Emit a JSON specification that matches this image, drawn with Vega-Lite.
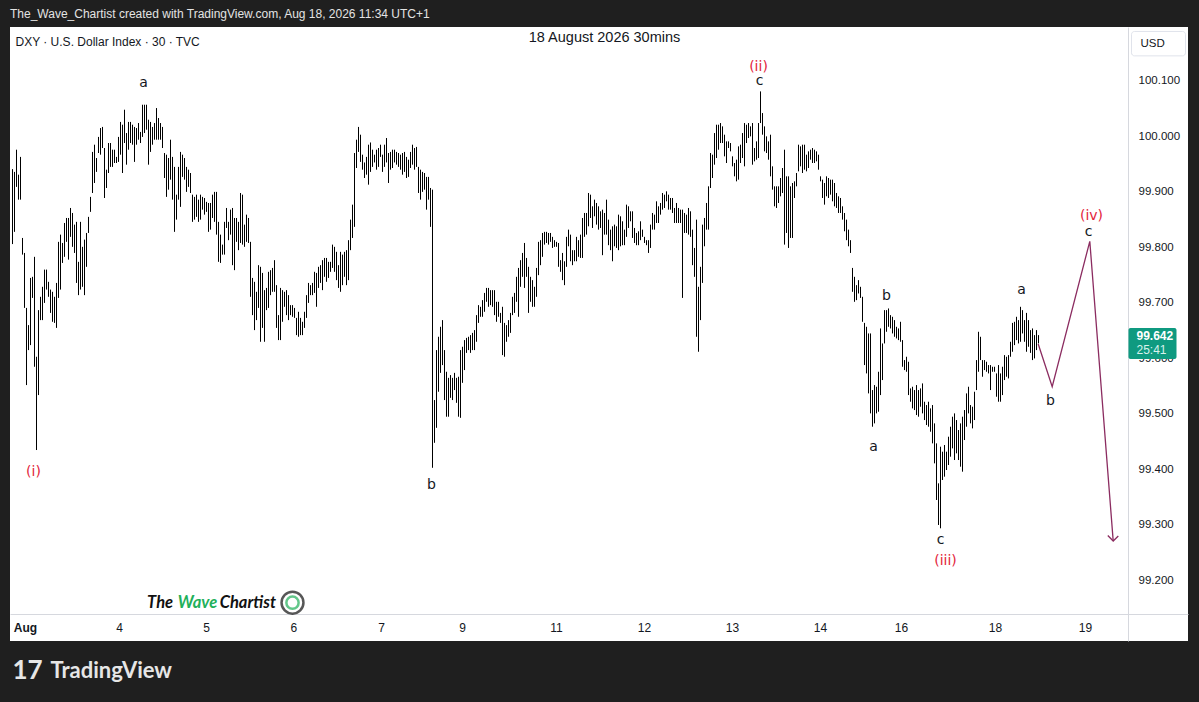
{
  "$schema": "https://vega.github.io/schema/vega-lite/v6.json",
  "width": 1178,
  "height": 614,
  "autosize": {"type": "none"},
  "padding": {"left": 10, "top": 27, "right": 11, "bottom": 61},
  "background": "#1f1f1f",
  "title": {
    "text": "The_Wave_Chartist created with TradingView.com, Aug 18, 2026 11:34 UTC+1",
    "anchor": "start",
    "frame": "group",
    "orient": "top",
    "offset": 1,
    "baseline": "middle",
    "font": "Liberation Sans",
    "fontSize": 12,
    "fontWeight": "normal",
    "color": "#e3e3e3"
  },
  "encoding": {
    "x": {
      "field": "t",
      "type": "quantitative",
      "scale": {"domain": [-0.25, 588.75], "nice": false, "zero": false},
      "axis": {
        "orient": "bottom",
        "offset": -27,
        "title": null,
        "grid": false,
        "ticks": false,
        "domainColor": "#d6d8de",
        "labelPadding": 8,
        "labelFont": "Liberation Sans",
        "labelFontSize": 12,
        "labelColor": "#131722",
        "labelOverlap": false,
        "values": [7.25, 54.25, 97.75, 141.4, 185.25, 225.75, 272.75, 316.75, 360.75, 404.75, 445.25, 492.25, 537.25],
        "labelExpr": "['Aug','4','5','6','7','9','11','12','13','14','16','18','19'][indexof([7.25, 54.25, 97.75, 141.4, 185.25, 225.75, 272.75, 316.75, 360.75, 404.75, 445.25, 492.25, 537.25], datum.value)]",
        "labelFontWeight": {"condition": {"test": "datum.value < 10", "value": "bold"}, "value": "normal"}
      }
    },
    "y": {
      "field": "p",
      "type": "quantitative",
      "scale": {"domain": [99.091, 100.197], "nice": false, "zero": false},
      "axis": {
        "orient": "right",
        "offset": -60,
        "title": null,
        "grid": false,
        "ticks": false,
        "domainColor": "#d6d8de",
        "labelPadding": 10,
        "labelFont": "Liberation Sans",
        "labelFontSize": 11.5,
        "labelColor": "#131722",
        "labelBaseline": "middle",
        "values": [99.2, 99.3, 99.4, 99.5, 99.6, 99.7, 99.8, 99.9, 100.0, 100.1],
        "format": ".3f"
      }
    }
  },
  "layer": [
    {
      "data": {"values": [
        {"t":1,"p":99.806,"p2":99.941},{"t":2,"p":99.828,"p2":99.936},{"t":3,"p":99.909,"p2":99.976},{"t":4,"p":99.886,"p2":99.931},{"t":5,"p":99.886,"p2":99.963},
        {"t":6,"p":99.787,"p2":99.817},{"t":7,"p":99.691,"p2":99.790},{"t":8,"p":99.552,"p2":99.691},{"t":9,"p":99.615,"p2":99.660},{"t":10,"p":99.624,"p2":99.745},
        {"t":11,"p":99.709,"p2":99.747},{"t":12,"p":99.585,"p2":99.783},{"t":13,"p":99.435,"p2":99.603},{"t":14,"p":99.534,"p2":99.687},{"t":15,"p":99.669,"p2":99.711},
        {"t":16,"p":99.669,"p2":99.729},{"t":17,"p":99.700,"p2":99.760},{"t":18,"p":99.724,"p2":99.760},{"t":19,"p":99.711,"p2":99.738},{"t":20,"p":99.682,"p2":99.724},
        {"t":21,"p":99.666,"p2":99.720},{"t":22,"p":99.664,"p2":99.711},{"t":23,"p":99.655,"p2":99.736},{"t":24,"p":99.709,"p2":99.810},{"t":25,"p":99.724,"p2":99.823},
        {"t":26,"p":99.772,"p2":99.808},{"t":27,"p":99.783,"p2":99.844},{"t":28,"p":99.810,"p2":99.853},{"t":29,"p":99.778,"p2":99.853},{"t":30,"p":99.819,"p2":99.871},
        {"t":31,"p":99.801,"p2":99.862},{"t":32,"p":99.790,"p2":99.841},{"t":33,"p":99.736,"p2":99.846},{"t":34,"p":99.714,"p2":99.774},{"t":35,"p":99.724,"p2":99.846},
        {"t":36,"p":99.729,"p2":99.801},{"t":37,"p":99.714,"p2":99.814},{"t":38,"p":99.765,"p2":99.826},{"t":39,"p":99.826,"p2":99.855},{"t":40,"p":99.864,"p2":99.891},
        {"t":41,"p":99.898,"p2":99.972},{"t":42,"p":99.916,"p2":99.985},{"t":43,"p":99.936,"p2":99.961},{"t":44,"p":99.970,"p2":99.999},{"t":45,"p":99.967,"p2":100.015},
        {"t":46,"p":99.979,"p2":100.017},{"t":47,"p":99.889,"p2":99.979},{"t":48,"p":99.907,"p2":99.940},{"t":49,"p":99.934,"p2":99.988},{"t":50,"p":99.945,"p2":99.988},
        {"t":51,"p":99.945,"p2":99.976},{"t":52,"p":99.952,"p2":99.976},{"t":53,"p":99.952,"p2":99.963},{"t":54,"p":99.954,"p2":99.999},{"t":55,"p":99.967,"p2":100.026},
        {"t":56,"p":99.934,"p2":100.021},{"t":57,"p":99.988,"p2":100.048},{"t":58,"p":99.949,"p2":100.006},{"t":59,"p":99.976,"p2":100.026},{"t":60,"p":99.988,"p2":100.026},
        {"t":61,"p":99.985,"p2":100.021},{"t":62,"p":99.954,"p2":100.017},{"t":63,"p":99.985,"p2":100.015},{"t":64,"p":99.994,"p2":100.024},{"t":65,"p":99.988,"p2":100.008},
        {"t":66,"p":99.999,"p2":100.057},{"t":67,"p":100.006,"p2":100.057},{"t":68,"p":100.012,"p2":100.057},{"t":69,"p":99.949,"p2":100.030},{"t":70,"p":99.972,"p2":100.026},
        {"t":71,"p":99.985,"p2":100.017},{"t":72,"p":99.994,"p2":100.024},{"t":73,"p":99.994,"p2":100.051},{"t":74,"p":99.994,"p2":100.033},{"t":75,"p":99.994,"p2":100.024},
        {"t":76,"p":99.979,"p2":100.017},{"t":77,"p":99.925,"p2":99.970},{"t":78,"p":99.891,"p2":99.967},{"t":79,"p":99.904,"p2":99.961},{"t":80,"p":99.922,"p2":99.994},
        {"t":81,"p":99.886,"p2":99.963},{"t":82,"p":99.828,"p2":99.945},{"t":83,"p":99.850,"p2":99.895},{"t":84,"p":99.886,"p2":99.945},{"t":85,"p":99.873,"p2":99.972},
        {"t":86,"p":99.927,"p2":99.967},{"t":87,"p":99.922,"p2":99.961},{"t":88,"p":99.900,"p2":99.945},{"t":89,"p":99.909,"p2":99.940},{"t":90,"p":99.898,"p2":99.934},
        {"t":91,"p":99.846,"p2":99.895},{"t":92,"p":99.850,"p2":99.891},{"t":93,"p":99.855,"p2":99.895},{"t":94,"p":99.846,"p2":99.886},{"t":95,"p":99.850,"p2":99.895},
        {"t":96,"p":99.868,"p2":99.891},{"t":97,"p":99.859,"p2":99.889},{"t":98,"p":99.864,"p2":99.882},{"t":99,"p":99.828,"p2":99.880},{"t":100,"p":99.832,"p2":99.880},
        {"t":101,"p":99.853,"p2":99.895},{"t":102,"p":99.846,"p2":99.900},{"t":103,"p":99.823,"p2":99.900},{"t":104,"p":99.774,"p2":99.846},
        {"t":105,"p":99.772,"p2":99.823},{"t":106,"p":99.787,"p2":99.805},{"t":107,"p":99.787,"p2":99.846},{"t":108,"p":99.835,"p2":99.871},{"t":109,"p":99.813,"p2":99.846},
        {"t":110,"p":99.823,"p2":99.868},{"t":111,"p":99.768,"p2":99.871},{"t":112,"p":99.759,"p2":99.853},{"t":113,"p":99.810,"p2":99.853},{"t":114,"p":99.795,"p2":99.846},
        {"t":115,"p":99.808,"p2":99.898},{"t":116,"p":99.805,"p2":99.895},{"t":117,"p":99.801,"p2":99.841},{"t":118,"p":99.810,"p2":99.859},{"t":119,"p":99.808,"p2":99.853},
        {"t":120,"p":99.711,"p2":99.810},{"t":121,"p":99.678,"p2":99.745},{"t":122,"p":99.651,"p2":99.738},{"t":123,"p":99.669,"p2":99.720},{"t":124,"p":99.691,"p2":99.768},
        {"t":125,"p":99.630,"p2":99.765},{"t":126,"p":99.655,"p2":99.754},{"t":127,"p":99.630,"p2":99.723},{"t":128,"p":99.687,"p2":99.727},{"t":129,"p":99.691,"p2":99.756},
        {"t":130,"p":99.714,"p2":99.759},{"t":131,"p":99.720,"p2":99.763},{"t":132,"p":99.720,"p2":99.777},{"t":133,"p":99.655,"p2":99.732},{"t":134,"p":99.633,"p2":99.678},
        {"t":135,"p":99.633,"p2":99.727},{"t":136,"p":99.666,"p2":99.723},{"t":137,"p":99.693,"p2":99.720},{"t":138,"p":99.678,"p2":99.723},{"t":139,"p":99.669,"p2":99.714},
        {"t":140,"p":99.678,"p2":99.696},{"t":141,"p":99.675,"p2":99.696},{"t":142,"p":99.673,"p2":99.691},{"t":143,"p":99.642,"p2":99.673},{"t":144,"p":99.639,"p2":99.684},
        {"t":145,"p":99.642,"p2":99.673},{"t":146,"p":99.642,"p2":99.666},{"t":147,"p":99.655,"p2":99.684},{"t":148,"p":99.673,"p2":99.714},{"t":149,"p":99.700,"p2":99.736},
        {"t":150,"p":99.714,"p2":99.732},{"t":151,"p":99.714,"p2":99.736},{"t":152,"p":99.718,"p2":99.756},{"t":153,"p":99.693,"p2":99.754},{"t":154,"p":99.727,"p2":99.765},
        {"t":155,"p":99.736,"p2":99.768},{"t":156,"p":99.723,"p2":99.777},{"t":157,"p":99.747,"p2":99.781},{"t":158,"p":99.738,"p2":99.781},{"t":159,"p":99.745,"p2":99.774},
        {"t":160,"p":99.756,"p2":99.774},{"t":161,"p":99.763,"p2":99.805},{"t":162,"p":99.756,"p2":99.801},{"t":163,"p":99.741,"p2":99.792},{"t":164,"p":99.727,"p2":99.768},
        {"t":165,"p":99.720,"p2":99.792},{"t":166,"p":99.732,"p2":99.787},{"t":167,"p":99.747,"p2":99.792},{"t":168,"p":99.732,"p2":99.795},{"t":169,"p":99.741,"p2":99.813},
        {"t":170,"p":99.795,"p2":99.850},{"t":171,"p":99.817,"p2":99.877},{"t":172,"p":99.837,"p2":99.970},{"t":173,"p":99.943,"p2":99.994},{"t":174,"p":99.972,"p2":100.017},
        {"t":175,"p":99.954,"p2":100.003},{"t":176,"p":99.940,"p2":99.967},{"t":177,"p":99.925,"p2":99.953},{"t":178,"p":99.931,"p2":99.963},{"t":179,"p":99.913,"p2":99.985},
        {"t":180,"p":99.936,"p2":99.989},{"t":181,"p":99.945,"p2":99.976},{"t":182,"p":99.953,"p2":99.967},{"t":183,"p":99.940,"p2":99.976},{"t":184,"p":99.945,"p2":99.979},
        {"t":185,"p":99.963,"p2":99.985},{"t":186,"p":99.936,"p2":99.967},{"t":187,"p":99.945,"p2":99.985},{"t":188,"p":99.953,"p2":99.997},{"t":189,"p":99.916,"p2":99.970},
        {"t":190,"p":99.940,"p2":99.972},{"t":191,"p":99.943,"p2":99.976},{"t":192,"p":99.953,"p2":99.976},{"t":193,"p":99.949,"p2":99.972},{"t":194,"p":99.945,"p2":99.970},
        {"t":195,"p":99.940,"p2":99.967},{"t":196,"p":99.931,"p2":99.970},{"t":197,"p":99.936,"p2":99.972},{"t":198,"p":99.925,"p2":99.963},{"t":199,"p":99.927,"p2":99.958},
        {"t":200,"p":99.943,"p2":99.972},{"t":201,"p":99.949,"p2":99.985},{"t":202,"p":99.940,"p2":99.979},{"t":203,"p":99.945,"p2":99.981},{"t":204,"p":99.898,"p2":99.945},
        {"t":205,"p":99.886,"p2":99.940},{"t":206,"p":99.900,"p2":99.936},{"t":207,"p":99.904,"p2":99.934},{"t":208,"p":99.868,"p2":99.927},{"t":209,"p":99.886,"p2":99.927},
        {"t":210,"p":99.837,"p2":99.907},{"t":211,"p":99.403,"p2":99.904},{"t":212,"p":99.448,"p2":99.525},{"t":213,"p":99.475,"p2":99.615},{"t":214,"p":99.540,"p2":99.639},
        {"t":215,"p":99.574,"p2":99.657},{"t":216,"p":99.588,"p2":99.669},{"t":217,"p":99.525,"p2":99.615},{"t":218,"p":99.495,"p2":99.576},{"t":219,"p":99.495,"p2":99.565},
        {"t":220,"p":99.529,"p2":99.570},{"t":221,"p":99.525,"p2":99.565},{"t":222,"p":99.543,"p2":99.574},{"t":223,"p":99.520,"p2":99.565},{"t":224,"p":99.495,"p2":99.567},
        {"t":225,"p":99.493,"p2":99.615},{"t":226,"p":99.556,"p2":99.621},{"t":227,"p":99.579,"p2":99.633},{"t":228,"p":99.610,"p2":99.637},{"t":229,"p":99.615,"p2":99.639},
        {"t":230,"p":99.610,"p2":99.642},{"t":231,"p":99.615,"p2":99.646},{"t":232,"p":99.615,"p2":99.651},{"t":233,"p":99.630,"p2":99.678},{"t":234,"p":99.664,"p2":99.696},
        {"t":235,"p":99.675,"p2":99.693},{"t":236,"p":99.675,"p2":99.705},{"t":237,"p":99.684,"p2":99.718},{"t":238,"p":99.702,"p2":99.727},{"t":239,"p":99.693,"p2":99.727},
        {"t":240,"p":99.696,"p2":99.723},{"t":241,"p":99.693,"p2":99.723},{"t":242,"p":99.678,"p2":99.723},{"t":243,"p":99.666,"p2":99.702},{"t":244,"p":99.675,"p2":99.702},
        {"t":245,"p":99.664,"p2":99.682},{"t":246,"p":99.606,"p2":99.693},{"t":247,"p":99.603,"p2":99.664},{"t":248,"p":99.630,"p2":99.660},{"t":249,"p":99.639,"p2":99.669},
        {"t":250,"p":99.646,"p2":99.682},{"t":251,"p":99.678,"p2":99.711},{"t":252,"p":99.682,"p2":99.718},{"t":253,"p":99.702,"p2":99.747},{"t":254,"p":99.675,"p2":99.763},
        {"t":255,"p":99.729,"p2":99.777},{"t":256,"p":99.747,"p2":99.790},{"t":257,"p":99.727,"p2":99.808},{"t":258,"p":99.747,"p2":99.781},{"t":259,"p":99.682,"p2":99.765},
        {"t":260,"p":99.702,"p2":99.747},{"t":261,"p":99.693,"p2":99.741},{"t":262,"p":99.693,"p2":99.729},{"t":263,"p":99.711,"p2":99.763},{"t":264,"p":99.750,"p2":99.810},
        {"t":265,"p":99.768,"p2":99.813},{"t":266,"p":99.783,"p2":99.826},{"t":267,"p":99.805,"p2":99.828},{"t":268,"p":99.808,"p2":99.828},{"t":269,"p":99.805,"p2":99.826},
        {"t":270,"p":99.810,"p2":99.826},{"t":271,"p":99.799,"p2":99.819},{"t":272,"p":99.801,"p2":99.813},{"t":273,"p":99.801,"p2":99.810},{"t":274,"p":99.765,"p2":99.808},
        {"t":275,"p":99.756,"p2":99.777},
        {"t":276,"p":99.741,"p2":99.790},{"t":277,"p":99.732,"p2":99.775},{"t":278,"p":99.765,"p2":99.819},{"t":279,"p":99.802,"p2":99.832},{"t":280,"p":99.775,"p2":99.823},
        {"t":281,"p":99.768,"p2":99.795},{"t":282,"p":99.775,"p2":99.795},{"t":283,"p":99.775,"p2":99.819},{"t":284,"p":99.783,"p2":99.813},{"t":285,"p":99.781,"p2":99.823},
        {"t":286,"p":99.781,"p2":99.853},{"t":287,"p":99.819,"p2":99.862},{"t":288,"p":99.823,"p2":99.862},{"t":289,"p":99.838,"p2":99.898},{"t":290,"p":99.853,"p2":99.895},
        {"t":291,"p":99.835,"p2":99.874},{"t":292,"p":99.856,"p2":99.886},{"t":293,"p":99.841,"p2":99.880},{"t":294,"p":99.832,"p2":99.874},{"t":295,"p":99.835,"p2":99.865},
        {"t":296,"p":99.786,"p2":99.868},{"t":297,"p":99.823,"p2":99.862},{"t":298,"p":99.823,"p2":99.886},{"t":299,"p":99.804,"p2":99.850},{"t":300,"p":99.795,"p2":99.832},
        {"t":301,"p":99.775,"p2":99.838},{"t":302,"p":99.802,"p2":99.841},{"t":303,"p":99.799,"p2":99.838},{"t":304,"p":99.795,"p2":99.859},{"t":305,"p":99.802,"p2":99.856},
        {"t":306,"p":99.804,"p2":99.847},{"t":307,"p":99.804,"p2":99.832},{"t":308,"p":99.819,"p2":99.877},{"t":309,"p":99.835,"p2":99.874},{"t":310,"p":99.847,"p2":99.865},
        {"t":311,"p":99.817,"p2":99.865},{"t":312,"p":99.808,"p2":99.835},{"t":313,"p":99.804,"p2":99.826},{"t":314,"p":99.804,"p2":99.829},{"t":315,"p":99.813,"p2":99.847},
        {"t":316,"p":99.819,"p2":99.832},{"t":317,"p":99.808,"p2":99.819},{"t":318,"p":99.804,"p2":99.813},{"t":319,"p":99.790,"p2":99.813},{"t":320,"p":99.799,"p2":99.841},
        {"t":321,"p":99.832,"p2":99.862},{"t":322,"p":99.832,"p2":99.859},{"t":323,"p":99.844,"p2":99.883},{"t":324,"p":99.844,"p2":99.874},{"t":325,"p":99.859,"p2":99.880},
        {"t":326,"p":99.868,"p2":99.898},{"t":327,"p":99.871,"p2":99.895},{"t":328,"p":99.883,"p2":99.901},{"t":329,"p":99.868,"p2":99.895},{"t":330,"p":99.868,"p2":99.889},
        {"t":331,"p":99.862,"p2":99.889},{"t":332,"p":99.844,"p2":99.871},{"t":333,"p":99.844,"p2":99.880},{"t":334,"p":99.844,"p2":99.871},{"t":335,"p":99.844,"p2":99.868},
        {"t":336,"p":99.709,"p2":99.868},{"t":337,"p":99.826,"p2":99.862},{"t":338,"p":99.826,"p2":99.859},{"t":339,"p":99.823,"p2":99.871},{"t":340,"p":99.819,"p2":99.865},
        {"t":341,"p":99.768,"p2":99.832},{"t":342,"p":99.747,"p2":99.799},{"t":343,"p":99.639,"p2":99.850},{"t":344,"p":99.612,"p2":99.729},{"t":345,"p":99.669,"p2":99.765},
        {"t":346,"p":99.736,"p2":99.841},{"t":347,"p":99.802,"p2":99.853},{"t":348,"p":99.832,"p2":99.880},{"t":349,"p":99.832,"p2":99.910},{"t":350,"p":99.907,"p2":99.970},
        {"t":351,"p":99.925,"p2":99.967},{"t":352,"p":99.949,"p2":100.006},{"t":353,"p":99.961,"p2":100.021},{"t":354,"p":99.976,"p2":100.021},{"t":355,"p":99.988,"p2":100.024},
        {"t":356,"p":99.988,"p2":100.018},{"t":357,"p":99.964,"p2":100.003},{"t":358,"p":99.952,"p2":99.991},{"t":359,"p":99.979,"p2":99.991},
        {"t":360,"p":99.973,"p2":99.988},{"t":361,"p":99.946,"p2":99.964},{"t":362,"p":99.928,"p2":99.952},{"t":363,"p":99.919,"p2":99.958},{"t":364,"p":99.922,"p2":99.982},
        {"t":365,"p":99.952,"p2":99.985},{"t":366,"p":99.961,"p2":100.006},{"t":367,"p":99.946,"p2":100.024},{"t":368,"p":99.988,"p2":100.021},{"t":369,"p":99.997,"p2":100.024},
        {"t":370,"p":100.000,"p2":100.018},{"t":371,"p":99.949,"p2":100.024},{"t":372,"p":99.955,"p2":99.979},{"t":373,"p":99.958,"p2":99.991},{"t":374,"p":99.961,"p2":100.024},
        {"t":375,"p":100.024,"p2":100.081},{"t":376,"p":100.003,"p2":100.042},{"t":377,"p":99.973,"p2":100.018},{"t":378,"p":99.970,"p2":100.000},{"t":379,"p":99.958,"p2":99.991},
        {"t":380,"p":99.928,"p2":100.003},{"t":381,"p":99.904,"p2":99.946},{"t":382,"p":99.874,"p2":99.910},{"t":383,"p":99.871,"p2":99.910},{"t":384,"p":99.880,"p2":99.910},
        {"t":385,"p":99.892,"p2":99.925},{"t":386,"p":99.898,"p2":99.943},{"t":387,"p":99.805,"p2":99.976},{"t":388,"p":99.826,"p2":99.928},{"t":389,"p":99.799,"p2":99.928},
        {"t":390,"p":99.817,"p2":99.910},{"t":391,"p":99.817,"p2":99.916},{"t":392,"p":99.889,"p2":99.919},{"t":393,"p":99.910,"p2":99.934},{"t":394,"p":99.937,"p2":99.985},
        {"t":395,"p":99.946,"p2":99.982},{"t":396,"p":99.934,"p2":99.985},{"t":397,"p":99.940,"p2":99.985},{"t":398,"p":99.937,"p2":99.967},{"t":399,"p":99.943,"p2":99.973},
        {"t":400,"p":99.958,"p2":99.976},{"t":401,"p":99.952,"p2":99.979},{"t":402,"p":99.952,"p2":99.976},{"t":403,"p":99.955,"p2":99.973},{"t":404,"p":99.940,"p2":99.967},
        {"t":405,"p":99.919,"p2":99.928},{"t":406,"p":99.889,"p2":99.922},{"t":407,"p":99.877,"p2":99.916},{"t":408,"p":99.892,"p2":99.928},{"t":409,"p":99.889,"p2":99.925},
        {"t":410,"p":99.895,"p2":99.922},{"t":411,"p":99.883,"p2":99.922},{"t":412,"p":99.874,"p2":99.916},{"t":413,"p":99.871,"p2":99.898},{"t":414,"p":99.862,"p2":99.892},
        {"t":415,"p":99.862,"p2":99.889},{"t":416,"p":99.850,"p2":99.874},{"t":417,"p":99.829,"p2":99.862},{"t":418,"p":99.813,"p2":99.850},{"t":419,"p":99.802,"p2":99.832},
        {"t":420,"p":99.790,"p2":99.813},{"t":421,"p":99.720,"p2":99.763},{"t":422,"p":99.702,"p2":99.747},{"t":423,"p":99.705,"p2":99.732},{"t":424,"p":99.717,"p2":99.741},
        {"t":425,"p":99.709,"p2":99.729},{"t":426,"p":99.666,"p2":99.711},{"t":427,"p":99.588,"p2":99.664},{"t":428,"p":99.573,"p2":99.657},{"t":429,"p":99.537,"p2":99.645},
        {"t":430,"p":99.501,"p2":99.645},{"t":431,"p":99.477,"p2":99.543},{"t":432,"p":99.483,"p2":99.552},{"t":433,"p":99.501,"p2":99.549},{"t":434,"p":99.504,"p2":99.576},
        {"t":435,"p":99.534,"p2":99.654},{"t":436,"p":99.561,"p2":99.627},{"t":437,"p":99.627,"p2":99.687},{"t":438,"p":99.648,"p2":99.687},{"t":439,"p":99.657,"p2":99.690},
        {"t":440,"p":99.654,"p2":99.678},{"t":441,"p":99.645,"p2":99.675},{"t":442,"p":99.639,"p2":99.669},{"t":443,"p":99.636,"p2":99.657},{"t":444,"p":99.633,"p2":99.654},
        {"t":445,"p":99.630,"p2":99.666},{"t":446,"p":99.585,"p2":99.633},{"t":447,"p":99.579,"p2":99.597},{"t":448,"p":99.576,"p2":99.603},{"t":449,"p":99.534,"p2":99.594},
        {"t":450,"p":99.522,"p2":99.546},{"t":451,"p":99.510,"p2":99.549},{"t":452,"p":99.507,"p2":99.543},{"t":453,"p":99.498,"p2":99.552},{"t":454,"p":99.495,"p2":99.543},
        {"t":455,"p":99.513,"p2":99.546},{"t":456,"p":99.501,"p2":99.555},{"t":457,"p":99.489,"p2":99.522},{"t":458,"p":99.480,"p2":99.516},{"t":459,"p":99.477,"p2":99.522},
        {"t":460,"p":99.468,"p2":99.510},{"t":461,"p":99.447,"p2":99.516},{"t":462,"p":99.411,"p2":99.483},{"t":463,"p":99.345,"p2":99.447},{"t":464,"p":99.300,"p2":99.375},
        {"t":465,"p":99.294,"p2":99.441},{"t":466,"p":99.381,"p2":99.432},{"t":467,"p":99.387,"p2":99.444},{"t":468,"p":99.399,"p2":99.432},{"t":469,"p":99.408,"p2":99.459},
        {"t":470,"p":99.423,"p2":99.477},{"t":471,"p":99.438,"p2":99.495},{"t":472,"p":99.417,"p2":99.501},{"t":473,"p":99.429,"p2":99.489},{"t":474,"p":99.417,"p2":99.471},
        {"t":475,"p":99.405,"p2":99.483},{"t":476,"p":99.396,"p2":99.495},{"t":477,"p":99.453,"p2":99.507},{"t":478,"p":99.477,"p2":99.537},{"t":479,"p":99.501,"p2":99.549},
        {"t":480,"p":99.483,"p2":99.516},{"t":481,"p":99.474,"p2":99.513},{"t":482,"p":99.489,"p2":99.540},{"t":483,"p":99.543,"p2":99.597},{"t":484,"p":99.576,"p2":99.648},
        {"t":485,"p":99.597,"p2":99.639},{"t":486,"p":99.567,"p2":99.597},{"t":487,"p":99.579,"p2":99.597},{"t":488,"p":99.576,"p2":99.594},{"t":489,"p":99.573,"p2":99.588},
        {"t":490,"p":99.543,"p2":99.588},{"t":491,"p":99.576,"p2":99.585},{"t":492,"p":99.576,"p2":99.585},{"t":493,"p":99.531,"p2":99.573},{"t":494,"p":99.522,"p2":99.588},
        {"t":495,"p":99.522,"p2":99.573},{"t":496,"p":99.534,"p2":99.585},{"t":497,"p":99.561,"p2":99.606},{"t":498,"p":99.567,"p2":99.603},{"t":499,"p":99.564,"p2":99.606},
        {"t":500,"p":99.603,"p2":99.630},{"t":501,"p":99.612,"p2":99.664},{"t":502,"p":99.624,"p2":99.666},{"t":503,"p":99.633,"p2":99.675},{"t":504,"p":99.627,"p2":99.669},
        {"t":505,"p":99.630,"p2":99.693},{"t":506,"p":99.645,"p2":99.687},{"t":507,"p":99.630,"p2":99.669},{"t":508,"p":99.612,"p2":99.682},{"t":509,"p":99.621,"p2":99.669},
        {"t":510,"p":99.610,"p2":99.651},{"t":511,"p":99.597,"p2":99.654},{"t":512,"p":99.600,"p2":99.642},{"t":513,"p":99.615,"p2":99.651},{"t":514,"p":99.627,"p2":99.642}
      ]},
      "mark": {"type": "rule", "color": "#000000", "strokeWidth": 1},
      "encoding": {"y2": {"field": "p2"}}
    },
    {
      "data": {"values": [
        {"seg": "path", "ord": 1, "t": 513.85, "p": 99.626},
        {"seg": "path", "ord": 2, "t": 520.85, "p": 99.549},
        {"seg": "path", "ord": 3, "t": 539.65, "p": 99.811},
        {"seg": "path", "ord": 4, "t": 551.35, "p": 99.271},
        {"seg": "head", "ord": 1, "t": 548.65, "p": 99.281},
        {"seg": "head", "ord": 2, "t": 551.35, "p": 99.271},
        {"seg": "head", "ord": 3, "t": 553.9, "p": 99.280}
      ]},
      "mark": {"type": "line", "color": "#8b2c60", "strokeWidth": 1.3},
      "encoding": {"detail": {"field": "seg"}, "order": {"field": "ord"}}
    },
    {
      "data": {"values": [
        {"t": 11.5, "p": 99.396, "label": "(i)"},
        {"t": 374, "p": 100.125, "label": "(ii)"},
        {"t": 467.5, "p": 99.235, "label": "(iii)"},
        {"t": 540.5, "p": 99.856, "label": "(iv)"}
      ]},
      "mark": {"type": "text", "font": "DejaVu Sans", "fontSize": 14, "color": "#e3243b", "align": "center", "baseline": "middle"},
      "encoding": {"text": {"field": "label"}}
    },
    {
      "data": {"values": [
        {"t": 66.5, "p": 100.096, "label": "a"},
        {"t": 210.5, "p": 99.372, "label": "b"},
        {"t": 374.5, "p": 100.099, "label": "c"},
        {"t": 438, "p": 99.713, "label": "b"},
        {"t": 431.5, "p": 99.441, "label": "a"},
        {"t": 465, "p": 99.273, "label": "c"},
        {"t": 505.5, "p": 99.723, "label": "a"},
        {"t": 520, "p": 99.524, "label": "b"},
        {"t": 539, "p": 99.828, "label": "c"}
      ]},
      "mark": {"type": "text", "font": "DejaVu Sans", "fontSize": 14, "color": "#131722", "align": "center", "baseline": "middle"},
      "encoding": {"text": {"field": "label"}}
    },
    {
      "data": {"values": [{"t": 2.5, "p": 100.170, "label": "DXY · U.S. Dollar Index · 30 · TVC"}]},
      "mark": {"type": "text", "font": "Liberation Sans", "fontSize": 12, "color": "#131722", "align": "left", "baseline": "middle"},
      "encoding": {"text": {"field": "label"}}
    },
    {
      "data": {"values": [{"t": 297, "p": 100.178, "label": "18 August 2026 30mins"}]},
      "mark": {"type": "text", "font": "Liberation Sans", "fontSize": 14.5, "color": "#131722", "align": "center", "baseline": "middle"},
      "encoding": {"text": {"field": "label"}}
    },
    {
      "data": {"values": [{"t": 560.5, "t2": 587.5, "p": 100.145, "p2": 100.189}]},
      "mark": {"type": "rect", "fill": "#ffffff", "stroke": "#e0e3eb", "strokeWidth": 1, "cornerRadius": 3},
      "encoding": {"x2": {"field": "t2"}, "y2": {"field": "p2"}}
    },
    {
      "data": {"values": [{"t": 565, "p": 100.166, "label": "USD"}]},
      "mark": {"type": "text", "font": "Liberation Sans", "fontSize": 11.5, "color": "#131722", "align": "left", "baseline": "middle"},
      "encoding": {"text": {"field": "label"}}
    },
    {
      "data": {"values": [{"t": 559, "t2": 583, "p": 99.599, "p2": 99.655}]},
      "mark": {"type": "rect", "fill": "#0f9a80", "cornerRadius": 2},
      "encoding": {"x2": {"field": "t2"}, "y2": {"field": "p2"}}
    },
    {
      "data": {"values": [{"t": 563, "p": 99.641, "label": "99.642"}]},
      "mark": {"type": "text", "font": "Liberation Sans", "fontSize": 12, "fontWeight": "bold", "color": "#ffffff", "align": "left", "baseline": "middle"},
      "encoding": {"text": {"field": "label"}}
    },
    {
      "data": {"values": [{"t": 563, "p": 99.615, "label": "25:41"}]},
      "mark": {"type": "text", "font": "Liberation Sans", "fontSize": 12, "color": "#d8f2ec", "align": "left", "baseline": "middle"},
      "encoding": {"text": {"field": "label"}}
    },
    {
      "data": {"values": [
        {"t": 68.3, "p": 99.160, "label": "The", "part": "dark"},
        {"t": 83.6, "p": 99.160, "label": "Wave", "part": "green"},
        {"t": 104.6, "p": 99.160, "label": "Chartist", "part": "dark"}
      ]},
      "mark": {"type": "text", "font": "Lato", "fontSize": 16.5, "fontWeight": "bold", "fontStyle": "italic", "align": "left", "baseline": "middle"},
      "encoding": {
        "text": {"field": "label"},
        "color": {"field": "part", "type": "nominal", "scale": {"domain": ["dark", "green"], "range": ["#111111", "#22b05a"]}, "legend": null}
      }
    },
    {
      "data": {"values": [{"t": 141, "p": 99.160, "ring": "outer"}, {"t": 141, "p": 99.160, "ring": "inner"}]},
      "mark": {"type": "point", "shape": "circle", "filled": false},
      "encoding": {
        "size": {"field": "ring", "type": "nominal", "scale": {"domain": ["outer", "inner"], "range": [480, 150]}, "legend": null},
        "stroke": {"field": "ring", "type": "nominal", "scale": {"domain": ["outer", "inner"], "range": ["#111111", "#22b05a"]}, "legend": null},
        "strokeWidth": {"value": 2.5}
      }
    },
    {
      "data": {"values": [{"t": 1, "p": 99.037, "label": "17"}]},
      "mark": {"type": "text", "font": "Lato", "fontSize": 26, "fontWeight": "bold", "color": "#e6e6e6", "align": "left", "baseline": "middle"},
      "encoding": {"text": {"field": "label"}}
    },
    {
      "data": {"values": [{"t": 20, "p": 99.037, "label": "TradingView"}]},
      "mark": {"type": "text", "font": "Lato", "fontSize": 22, "fontWeight": "bold", "color": "#e6e6e6", "align": "left", "baseline": "middle"},
      "encoding": {"text": {"field": "label"}}
    }
  ],
  "config": {
    "view": {"fill": "#ffffff", "stroke": null},
    "font": "Liberation Sans"
  }
}
